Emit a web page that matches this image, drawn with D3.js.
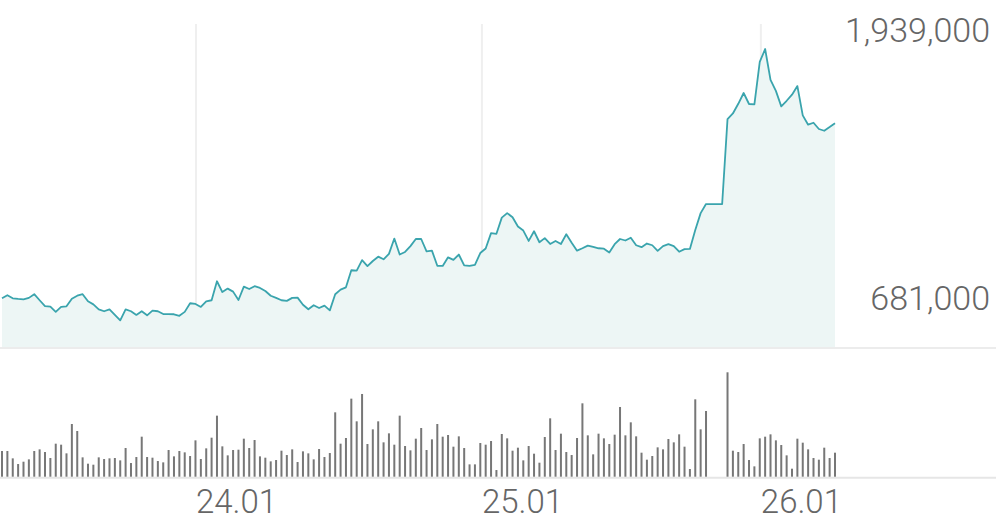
<!DOCTYPE html>
<html>
<head>
<meta charset="utf-8">
<script src="https://cdn.jsdelivr.net/npm/d3@7"></script>
<style>
  body { margin: 0; background: #fff; }
  text { font-family: Roboto, "Noto Sans", sans-serif; font-weight: 300; fill: #666; }
</style>
</head>
<body>
<div id="chart"></div>
<script>
// price per interval
const prices = [
  783000, 797000, 783000, 780000, 778000, 785000, 802000, 774000, 747000, 744000,
  720000, 743000, 746000, 781000, 795000, 802000, 769000, 755000, 732000, 723000,
  732000, 706000, 681000, 732000, 723000, 706000, 723000, 704000, 726000, 723000,
  710000, 710000, 709000, 702000, 720000, 760000, 757000, 743000, 769000, 774000,
  862000, 812000, 828000, 814000, 775000, 837000, 826000, 839000, 831000, 817000,
  795000, 785000, 774000, 771000, 785000, 786000, 753000, 732000, 751000, 738000,
  749000, 727000, 802000, 823000, 834000, 913000, 911000, 960000, 932000, 956000,
  976000, 964000, 989000, 1060000, 986000, 998000, 1025000, 1058000, 1058000, 1001000,
  1004000, 934000, 933000, 973000, 961000, 986000, 936000, 933000, 938000, 993000,
  1014000, 1085000, 1082000, 1157000, 1178000, 1159000, 1116000, 1097000, 1049000, 1094000,
  1043000, 1062000, 1035000, 1049000, 1035000, 1080000, 1041000, 1004000, 1015000, 1027000,
  1021000, 1015000, 1013000, 995000, 1034000, 1058000, 1051000, 1064000, 1029000, 1020000,
  1037000, 1029000, 1003000, 1025000, 1034000, 1025000, 999000, 1011000, 1012000, 1100000,
  1178000, 1220000, 1220000, 1220000, 1220000, 1614000, 1640000, 1685000, 1735000, 1684000,
  1682000, 1879000, 1939000, 1796000, 1745000, 1673000, 1699000, 1727000, 1767000, 1631000,
  1588000, 1597000, 1568000, 1560000, 1577000, 1595000
];

// volume per interval (no trades where null)
const volumes = [
  77, 77, 55, 38, 45, 52, 77, 82, 74, 56,
  99, 96, 70, 158, 137, 58, 39, 36, 58, 53,
  55, 56, 49, 86, 41, 59, 120, 59, 57, 47,
  43, 80, 61, 77, 73, 62, 109, 53, 85, 117,
  183, 91, 64, 80, 81, 114, 86, 110, 61, 57,
  46, 50, 78, 65, 82, 44, 76, 70, 52, 83,
  59, 71, 193, 99, 116, 234, 166, 248, 98, 142,
  166, 103, 130, 96, 183, 92, 79, 114, 146, 80,
  112, 158, 120, 125, 90, 121, 86, 37, 37, 101,
  96, 107, 20, 128, 115, 78, 87, 49, 92, 69,
  42, 119, 175, 80, 129, 74, 65, 116, 220, 124,
  67, 129, 115, 98, 126, 209, 124, 163, 121, 72,
  51, 62, 88, 82, 113, 103, 127, 90, 23, 232,
  142, 197, null, null, null, 313, 78, 74, 98, 50,
  31, 115, 120, 127, 109, 95, 64, 24, 114, 102,
  82, 56, 51, 87, 56, 72
];

// where each day starts, in interval units
const dayTicks = [36.1, 89.3, 141.2];
const dayLabels = ['24.01', '25.01', '26.01'];

let width = 996;
let height = 519;
let priceTop = 49, priceBottom = 320.3, panelBottom = 347;
let volTop = 372.3, volBottom = 476.7;

let svg = d3.select('#chart')
    .append('svg')
    .attr('width', width)
    .attr('height', height);

let x = d3.scaleLinear()
    .domain([0, prices.length - 1])
    .range([2, 835]);

let y = d3.scaleLinear()
    .domain(d3.extent(prices))
    .range([priceBottom, priceTop]);

let yVol = d3.scaleLinear()
    .domain([0, d3.max(volumes)])
    .range([volBottom, volTop]);

// day gridlines
svg.append('g')
    .selectAll('line')
    .data(dayTicks)
    .enter()
    .append('line')
    .attr('x1', d => x(d))
    .attr('x2', d => x(d))
    .attr('y1', 24)
    .attr('y2', panelBottom)
    .style('stroke', '#efefef')
    .style('stroke-width', 2);

let area = d3.area()
    .x((d, i) => x(i))
    .y0(panelBottom)
    .y1(d => y(d));

let line = d3.line()
    .x((d, i) => x(i))
    .y(d => y(d));

svg.append('path')
    .datum(prices)
    .attr('d', area)
    .style('fill', '#edf6f5');

svg.append('path')
    .datum(prices)
    .attr('d', line)
    .style('fill', 'none')
    .style('stroke', '#3aa4ad')
    .style('stroke-width', 1.8)
    .style('stroke-linejoin', 'round');

// panel separators
svg.append('line')
    .attr('x1', 0).attr('x2', width)
    .attr('y1', panelBottom + 1).attr('y2', panelBottom + 1)
    .style('stroke', '#ececec')
    .style('stroke-width', 2);

svg.append('line')
    .attr('x1', 0).attr('x2', width)
    .attr('y1', volBottom + 1).attr('y2', volBottom + 1)
    .style('stroke', '#e6e6e6')
    .style('stroke-width', 2);

// volume bars
svg.append('g')
    .selectAll('rect')
    .data(volumes.map((v, i) => ({ v, i })).filter(d => d.v !== null))
    .enter()
    .append('rect')
    .attr('x', d => x(d.i) - 1)
    .attr('width', 2)
    .attr('y', d => yVol(d.v))
    .attr('height', d => volBottom - yVol(d.v))
    .style('fill', '#777');

// high / low labels
let fmt = d3.format(',');
svg.append('text')
    .attr('x', 990)
    .attr('y', 42)
    .attr('text-anchor', 'end')
    .style('font-size', '34px')
    .text(fmt(d3.max(prices)));

svg.append('text')
    .attr('x', 990)
    .attr('y', 310)
    .attr('text-anchor', 'end')
    .style('font-size', '34px')
    .text(fmt(d3.min(prices)));

// date labels
svg.append('g')
    .selectAll('text')
    .data(dayTicks)
    .enter()
    .append('text')
    .attr('x', d => x(d))
    .attr('y', 513)
    .style('font-size', '33px')
    .text((d, i) => dayLabels[i]);
</script>
</body>
</html>
